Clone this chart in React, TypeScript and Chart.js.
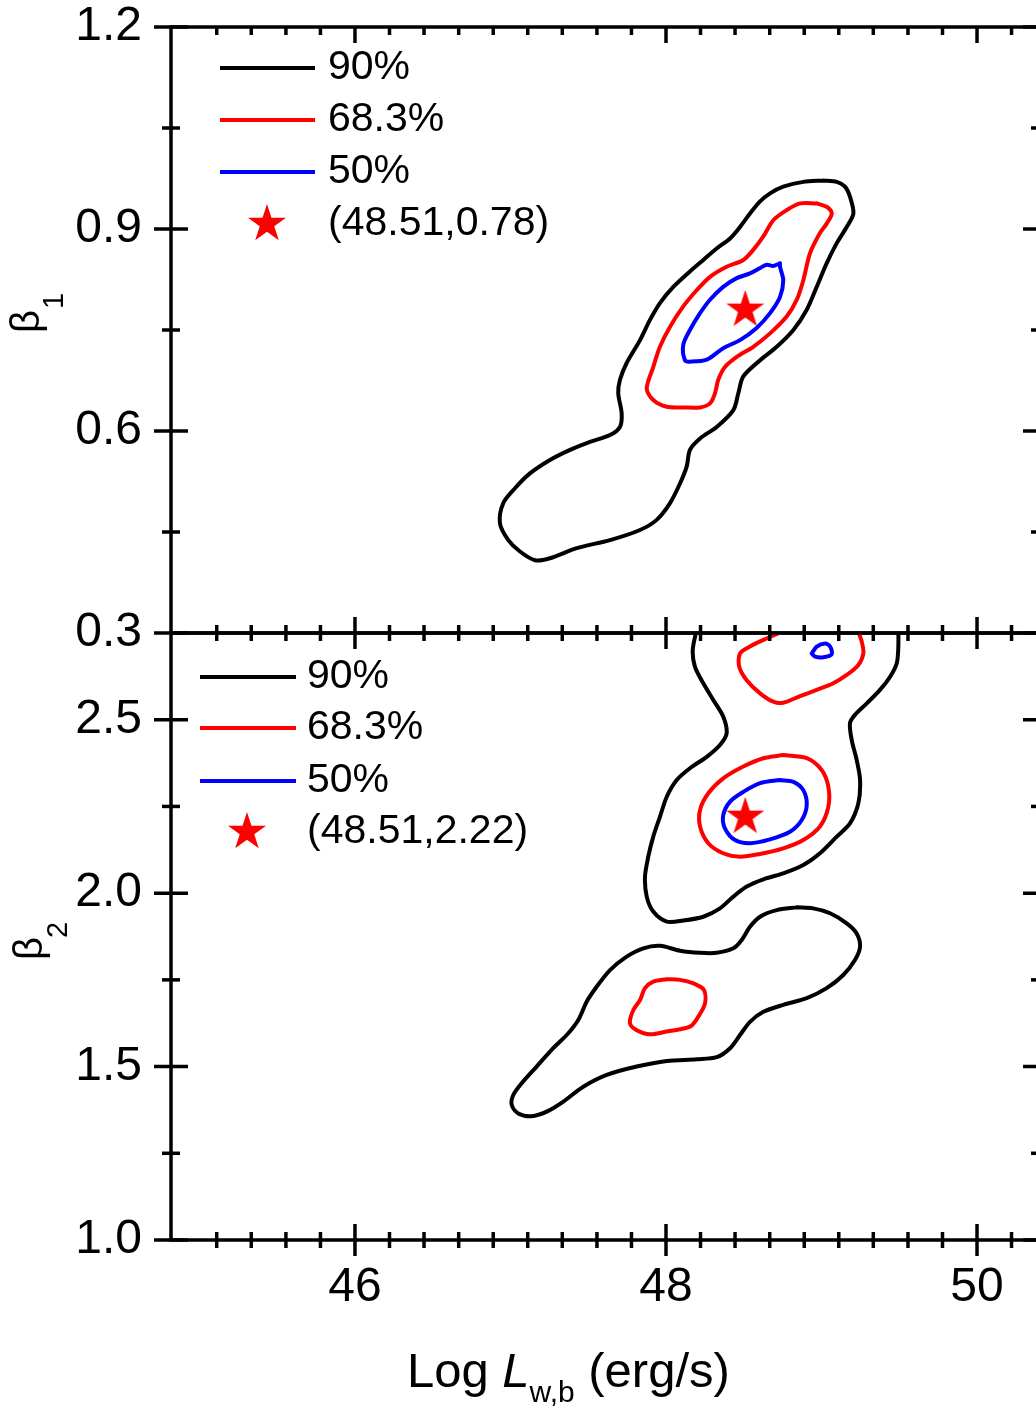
import React, { useEffect, useRef } from 'react';
import { Chart, registerables } from 'chart.js';

Chart.register(...registerables);

const FONT = '"Liberation Sans", Arial, Helvetica, sans-serif';

// ---------- axes ----------
const xMin = 44.817;
const xMax = 50.405;
const xMajorTicks = [46, 48, 50];
const xMinorTicks = [
  45.111, 45.333, 45.556, 45.778,
  46.222, 46.444, 46.667, 46.889, 47.111, 47.333, 47.556, 47.778,
  48.222, 48.444, 48.667, 48.889, 49.111, 49.333, 49.556, 49.778,
  50.222,
];
const topYMin = 0.3;
const topYMax = 1.2;
const topYMajor = [0.3, 0.6, 0.9, 1.2];
const topYMinor = [0.45, 0.75, 1.05];
const botYMin = 1.0;
const botYMax = 2.75;
const botYMajor = [1.0, 1.5, 2.0, 2.5];
const botYMinor = [1.25, 1.75, 2.25];

const legendLabels = ['90%', '68.3%', '50%'];
const legendColors = ['#000000', '#ff0000', '#0000ff'];

// ---------- best-fit points ----------
const bestTop: [number, number] = [48.51, 0.78];
const bestBot: [number, number] = [48.51, 2.22];

// ---------- top panel contours (Log L, beta1) ----------
const top90: [number, number][] = [
  [49.012, 0.972], [48.883, 0.970], [48.754, 0.963], [48.669, 0.953], [48.605, 0.941], [48.540, 0.923],
  [48.476, 0.903], [48.412, 0.886], [48.326, 0.871], [48.240, 0.854], [48.154, 0.837], [48.047, 0.814],
  [47.961, 0.790], [47.897, 0.765], [47.833, 0.735], [47.747, 0.701], [47.704, 0.676], [47.693, 0.656],
  [47.715, 0.626], [47.704, 0.606], [47.640, 0.594], [47.511, 0.584], [47.383, 0.572], [47.254, 0.557],
  [47.125, 0.537], [47.029, 0.515], [46.954, 0.493], [46.932, 0.463], [46.986, 0.438], [47.061, 0.421],
  [47.158, 0.408], [47.254, 0.411], [47.426, 0.426], [47.640, 0.438], [47.833, 0.453], [47.940, 0.468],
  [48.026, 0.493], [48.090, 0.522], [48.133, 0.547], [48.154, 0.572], [48.219, 0.589], [48.326, 0.606],
  [48.433, 0.631], [48.465, 0.656], [48.497, 0.681], [48.605, 0.705], [48.712, 0.725], [48.819, 0.750],
  [48.905, 0.780], [48.969, 0.814], [49.033, 0.849], [49.098, 0.879], [49.162, 0.903], [49.205, 0.923],
  [49.183, 0.948], [49.151, 0.963], [49.098, 0.970],
];
const top683: [number, number][] = [
  [48.969, 0.938], [48.862, 0.938], [48.776, 0.928], [48.690, 0.913], [48.626, 0.889], [48.561, 0.869],
  [48.497, 0.854], [48.390, 0.844], [48.283, 0.829], [48.197, 0.809], [48.111, 0.785], [48.026, 0.755],
  [47.961, 0.725], [47.918, 0.695], [47.876, 0.663], [47.918, 0.646], [48.005, 0.636], [48.111, 0.635],
  [48.219, 0.635], [48.283, 0.641], [48.315, 0.656], [48.336, 0.676], [48.379, 0.695], [48.455, 0.710],
  [48.561, 0.725], [48.669, 0.745], [48.776, 0.770], [48.841, 0.795], [48.883, 0.824], [48.926, 0.864],
  [48.990, 0.894], [49.033, 0.908], [49.066, 0.923], [49.033, 0.933],
];
const top50: [number, number][] = [
  [48.733, 0.849], [48.690, 0.845], [48.648, 0.847], [48.605, 0.842], [48.540, 0.834], [48.455, 0.827],
  [48.368, 0.814], [48.283, 0.795], [48.219, 0.775], [48.154, 0.750], [48.111, 0.728], [48.122, 0.705],
  [48.154, 0.703], [48.262, 0.706], [48.368, 0.723], [48.476, 0.735], [48.583, 0.753], [48.669, 0.775],
  [48.733, 0.799], [48.754, 0.824], [48.733, 0.844],
];

// ---------- bottom panel contours (Log L, beta2) ----------
const bot90Upper: [number, number][] = [
  [48.197, 2.76], [48.172, 2.701], [48.186, 2.653], [48.240, 2.605], [48.304, 2.557], [48.368, 2.509],
  [48.390, 2.461], [48.347, 2.427], [48.262, 2.393], [48.154, 2.360], [48.069, 2.326], [48.005, 2.278],
  [47.961, 2.220], [47.918, 2.163], [47.886, 2.105], [47.865, 2.047], [47.876, 1.990], [47.918, 1.947],
  [48.005, 1.918], [48.111, 1.921], [48.240, 1.932], [48.347, 1.956], [48.433, 1.990], [48.519, 2.019],
  [48.626, 2.040], [48.754, 2.057], [48.883, 2.081], [48.990, 2.115], [49.098, 2.163], [49.183, 2.201],
  [49.237, 2.259], [49.248, 2.326], [49.226, 2.384], [49.194, 2.442], [49.183, 2.490], [49.215, 2.514],
  [49.291, 2.547], [49.376, 2.586], [49.441, 2.624], [49.484, 2.663], [49.494, 2.711], [49.494, 2.76],
];
const bot683Upper: [number, number][] = [
  [48.78, 2.76], [48.626, 2.730], [48.540, 2.711], [48.476, 2.691], [48.471, 2.653], [48.519, 2.614],
  [48.605, 2.576], [48.690, 2.552], [48.754, 2.549], [48.862, 2.568], [48.969, 2.586], [49.076, 2.605],
  [49.162, 2.629], [49.237, 2.658], [49.269, 2.691], [49.259, 2.725], [49.23, 2.76],
];
const bot50Upper: [number, number][] = [
  [48.937, 2.691], [48.969, 2.711], [49.023, 2.720], [49.055, 2.711], [49.066, 2.689], [49.012, 2.680],
  [48.958, 2.682],
];
const bot683Mid: [number, number][] = [
  [48.754, 2.398], [48.626, 2.389], [48.497, 2.365], [48.368, 2.331], [48.272, 2.288], [48.219, 2.240],
  [48.219, 2.192], [48.272, 2.144], [48.368, 2.115], [48.476, 2.105], [48.605, 2.113], [48.754, 2.129],
  [48.883, 2.153], [48.990, 2.192], [49.044, 2.249], [49.044, 2.307], [49.001, 2.355], [48.905, 2.389],
];
const bot50Mid: [number, number][] = [
  [48.733, 2.326], [48.605, 2.317], [48.497, 2.292], [48.412, 2.264], [48.368, 2.225], [48.379, 2.187],
  [48.444, 2.153], [48.540, 2.144], [48.669, 2.155], [48.797, 2.177], [48.873, 2.211], [48.905, 2.254],
  [48.883, 2.297], [48.819, 2.321],
];
const bot90Lower: [number, number][] = [
  [48.841, 1.959], [48.712, 1.951], [48.605, 1.932], [48.540, 1.903], [48.487, 1.865], [48.433, 1.841],
  [48.326, 1.828], [48.219, 1.828], [48.090, 1.834], [47.961, 1.848], [47.854, 1.841], [47.747, 1.817],
  [47.640, 1.778], [47.554, 1.730], [47.490, 1.687], [47.436, 1.634], [47.372, 1.596], [47.275, 1.553],
  [47.168, 1.500], [47.072, 1.452], [47.018, 1.418], [47.008, 1.389], [47.050, 1.365], [47.136, 1.357],
  [47.233, 1.370], [47.340, 1.399], [47.468, 1.442], [47.619, 1.476], [47.812, 1.500], [48.005, 1.516],
  [48.197, 1.521], [48.326, 1.527], [48.412, 1.553], [48.476, 1.591], [48.540, 1.629], [48.626, 1.658],
  [48.754, 1.678], [48.905, 1.697], [49.033, 1.726], [49.140, 1.764], [49.215, 1.807], [49.248, 1.846],
  [49.226, 1.884], [49.162, 1.913], [49.055, 1.942], [48.947, 1.956],
];
const bot683Lower: [number, number][] = [
  [48.005, 1.752], [47.918, 1.745], [47.865, 1.726], [47.833, 1.692], [47.790, 1.663], [47.768, 1.625],
  [47.812, 1.605], [47.897, 1.593], [48.005, 1.601], [48.154, 1.615], [48.208, 1.644], [48.251, 1.682],
  [48.244, 1.721], [48.176, 1.740], [48.090, 1.750],
];

// ---------- helpers ----------
const W = 1060;
const H = 1408;

function pts(arr: [number, number][], closed: boolean) {
  const p = arr.map(([x, y]) => ({ x, y }));
  if (closed && p.length) p.push({ ...p[0] });
  return p;
}

function contour(arr: [number, number][], color: string, closed = true) {
  return {
    data: pts(arr, closed),
    showLine: true,
    borderColor: color,
    backgroundColor: color,
    borderWidth: 4,
    pointRadius: 0,
    pointHoverRadius: 0,
    tension: 0.3,
    fill: false,
    clip: 0,
    borderJoinStyle: 'round',
    borderCapStyle: 'round',
  };
}

function makeStar(R: number) {
  const s = Math.ceil(2 * R + 4);
  const c = document.createElement('canvas');
  c.width = s;
  c.height = s;
  const g = c.getContext('2d')!;
  g.fillStyle = '#ff0000';
  g.beginPath();
  const r = R * 0.382;
  for (let i = 0; i < 10; i++) {
    const a = -Math.PI / 2 + (i * Math.PI) / 5;
    const rr = i % 2 === 0 ? R : r;
    const px = s / 2 + rr * Math.cos(a);
    const py = s / 2 + rr * Math.sin(a);
    if (i === 0) g.moveTo(px, py);
    else g.lineTo(px, py);
  }
  g.closePath();
  g.fill();
  return c;
}

function line(ctx: CanvasRenderingContext2D, x1: number, y1: number, x2: number, y2: number) {
  ctx.beginPath();
  ctx.moveTo(x1, y1);
  ctx.lineTo(x2, y2);
  ctx.stroke();
}

type FrameCfg = {
  id: string;
  yMajor: number[];
  yMinor: number[];
  bottomCross: boolean;
};

function framePlugin(cfg: FrameCfg) {
  return {
    id: cfg.id,
    afterDraw(chart: any) {
      const ctx: CanvasRenderingContext2D = chart.ctx;
      const { left, right, top, bottom } = chart.chartArea;
      const xs = chart.scales.x;
      const ys = chart.scales.y;
      ctx.save();
      ctx.strokeStyle = '#000';
      ctx.lineWidth = 3.5;
      ctx.lineCap = 'butt';
      ctx.strokeRect(left, top, right - left, bottom - top);
      const MJ = 17;
      const MN = 9;
      for (const v of cfg.yMajor) {
        const p = ys.getPixelForValue(v);
        line(ctx, left - MJ, p, left + MJ, p);
        line(ctx, right - MJ, p, right + MJ, p);
      }
      for (const v of cfg.yMinor) {
        const p = ys.getPixelForValue(v);
        line(ctx, left - MN, p, left + MN, p);
        line(ctx, right - MN, p, right + MN, p);
      }
      const xt = (v: number, len: number) => {
        const p = xs.getPixelForValue(v);
        line(ctx, p, top, p, top + len);
        if (cfg.bottomCross) line(ctx, p, bottom - len, p, bottom + len);
        else line(ctx, p, bottom - len, p, bottom);
      };
      for (const v of xMajorTicks) xt(v, 16);
      for (const v of xMinorTicks) xt(v, 8);
      ctx.restore();
    },
  };
}

function drawLegend(
  ctx: CanvasRenderingContext2D,
  star: HTMLCanvasElement,
  lx1: number,
  lx2: number,
  tx: number,
  ys: number[],
  starX: number,
  starY: number,
  starLabel: string,
) {
  ctx.save();
  ctx.lineWidth = 4;
  ctx.lineCap = 'butt';
  ctx.font = `41px ${FONT}`;
  ctx.textBaseline = 'middle';
  ctx.textAlign = 'left';
  ctx.fillStyle = '#000';
  legendLabels.forEach((lab, i) => {
    ctx.strokeStyle = legendColors[i];
    line(ctx, lx1, ys[i], lx2, ys[i]);
    ctx.fillText(lab, tx, ys[i]);
  });
  ctx.drawImage(star, starX - star.width / 2, starY - star.height / 2);
  ctx.fillText(starLabel, tx, starY);
  ctx.restore();
}

function drawBetaTitle(ctx: CanvasRenderingContext2D, bx: number, by: number, sub: string, subDx: number, subDy: number) {
  ctx.save();
  ctx.translate(bx, by);
  ctx.rotate(-Math.PI / 2);
  ctx.fillStyle = '#000';
  ctx.textAlign = 'left';
  ctx.textBaseline = 'alphabetic';
  ctx.font = `40px ${FONT}`;
  ctx.fillText('\u03b2', 0, 0);
  ctx.font = `29px ${FONT}`;
  ctx.fillText(sub, subDx, subDy);
  ctx.restore();
}

function tickFont() {
  return { family: FONT, size: 48, lineHeight: 1 };
}

function fmt1(v: any) {
  return Number(v).toFixed(1);
}

function fixY(s: any) {
  s.width = 171;
  s.paddingTop = 0;
  s.paddingBottom = 0;
}

export default function App() {
  const topRef = useRef<HTMLCanvasElement>(null);
  const botRef = useRef<HTMLCanvasElement>(null);

  useEffect(() => {
    document.body.style.margin = '0';
    const star = makeStar(20);

    const topText = {
      id: 'topText',
      afterDraw(chart: any) {
        const ctx = chart.ctx as CanvasRenderingContext2D;
        const { left, top } = chart.chartArea;
        drawBetaTitle(ctx, 39, 333, '1', 24, 24);
        drawLegend(ctx, star, left + 49, left + 144, left + 157, [top + 41, top + 93, top + 145], left + 96, top + 197,
          `(${bestTop[0].toFixed(2)},${bestTop[1].toFixed(2)})`);
      },
    };

    const botText = {
      id: 'botText',
      afterDraw(chart: any) {
        const ctx = chart.ctx as CanvasRenderingContext2D;
        const { left, top } = chart.chartArea;
        drawBetaTitle(ctx, 42, 960, '2', 22, 25);
        drawLegend(ctx, star, left + 29, left + 125, left + 136, [top + 44, top + 95, top + 148], left + 76, top + 199,
          `(${bestBot[0].toFixed(2)},${bestBot[1].toFixed(2)})`);
        // x-axis title
        ctx.save();
        ctx.fillStyle = '#000';
        ctx.textBaseline = 'alphabetic';
        ctx.textAlign = 'left';
        let x = 407;
        const base = 1387;
        ctx.font = `49px ${FONT}`;
        ctx.fillText('Log ', x, base);
        x += ctx.measureText('Log ').width;
        ctx.font = `italic 49px ${FONT}`;
        ctx.fillText('L', x, base);
        x += ctx.measureText('L').width;
        ctx.font = `30px ${FONT}`;
        ctx.fillText('w,b', x, base + 15);
        x += ctx.measureText('w,b').width;
        ctx.font = `49px ${FONT}`;
        ctx.fillText(' (erg/s)', x, base);
        ctx.restore();
      },
    };

    const commonOpts = {
      responsive: false,
      animation: false as const,
      devicePixelRatio: 1,
      events: [] as any[],
      plugins: { legend: { display: false }, tooltip: { enabled: false }, title: { display: false } },
    };

    const topChart = new Chart(topRef.current!, {
      type: 'scatter',
      data: {
        datasets: [
          contour(top90, '#000000'),
          contour(top683, '#ff0000'),
          contour(top50, '#0000ff'),
          {
            data: [{ x: bestTop[0], y: bestTop[1] }],
            pointStyle: star,
            pointRadius: 20,
            pointHoverRadius: 20,
            showLine: false,
          } as any,
        ] as any,
      },
      options: {
        ...commonOpts,
        layout: { padding: { left: 0, top: 27, right: W - 1040, bottom: H - 633 }, autoPadding: false },
        scales: {
          x: { type: 'linear', min: xMin, max: xMax, display: false },
          y: {
            type: 'linear',
            position: 'left',
            min: topYMin,
            max: topYMax,
            afterFit: fixY,
            afterBuildTicks: (s: any) => { s.ticks = topYMajor.map((v) => ({ value: v })); },
            ticks: { padding: 29, color: '#000', font: tickFont(), callback: fmt1, autoSkip: false },
            grid: { display: false, drawTicks: false },
            border: { display: false },
          },
        },
      } as any,
      plugins: [framePlugin({ id: 'frameTop', yMajor: topYMajor, yMinor: topYMinor, bottomCross: false }), topText],
    });

    const botChart = new Chart(botRef.current!, {
      type: 'scatter',
      data: {
        datasets: [
          contour(bot90Upper, '#000000', false),
          contour(bot90Lower, '#000000'),
          contour(bot683Upper, '#ff0000', false),
          contour(bot683Mid, '#ff0000'),
          contour(bot683Lower, '#ff0000'),
          contour(bot50Upper, '#0000ff'),
          contour(bot50Mid, '#0000ff'),
          {
            data: [{ x: bestBot[0], y: bestBot[1] }],
            pointStyle: star,
            pointRadius: 20,
            pointHoverRadius: 20,
            showLine: false,
          } as any,
        ] as any,
      },
      options: {
        ...commonOpts,
        layout: { padding: { left: 0, top: 633, right: W - 1040, bottom: 0 }, autoPadding: false },
        scales: {
          x: {
            type: 'linear',
            position: 'bottom',
            min: xMin,
            max: xMax,
            afterFit: (s: any) => { s.height = H - 1240; s.paddingLeft = 0; s.paddingRight = 0; },
            afterBuildTicks: (s: any) => { s.ticks = xMajorTicks.map((v) => ({ value: v })); },
            ticks: { padding: 24, color: '#000', font: tickFont(), callback: (v: any) => String(v), autoSkip: false, maxRotation: 0 },
            grid: { display: false, drawTicks: false },
            border: { display: false },
          },
          y: {
            type: 'linear',
            position: 'left',
            min: botYMin,
            max: botYMax,
            afterFit: fixY,
            afterBuildTicks: (s: any) => { s.ticks = botYMajor.map((v) => ({ value: v })); },
            ticks: { padding: 29, color: '#000', font: tickFont(), callback: fmt1, autoSkip: false },
            grid: { display: false, drawTicks: false },
            border: { display: false },
          },
        },
      } as any,
      plugins: [framePlugin({ id: 'frameBot', yMajor: botYMajor, yMinor: botYMinor, bottomCross: true }), botText],
    });

    return () => {
      topChart.destroy();
      botChart.destroy();
    };
  }, []);

  return (
    <div style={{ position: 'relative', width: 1036, height: H, overflow: 'hidden', background: '#fff' }}>
      <canvas ref={topRef} width={W} height={H} style={{ position: 'absolute', left: 0, top: 0 }} />
      <canvas ref={botRef} width={W} height={H} style={{ position: 'absolute', left: 0, top: 0 }} />
    </div>
  );
}
